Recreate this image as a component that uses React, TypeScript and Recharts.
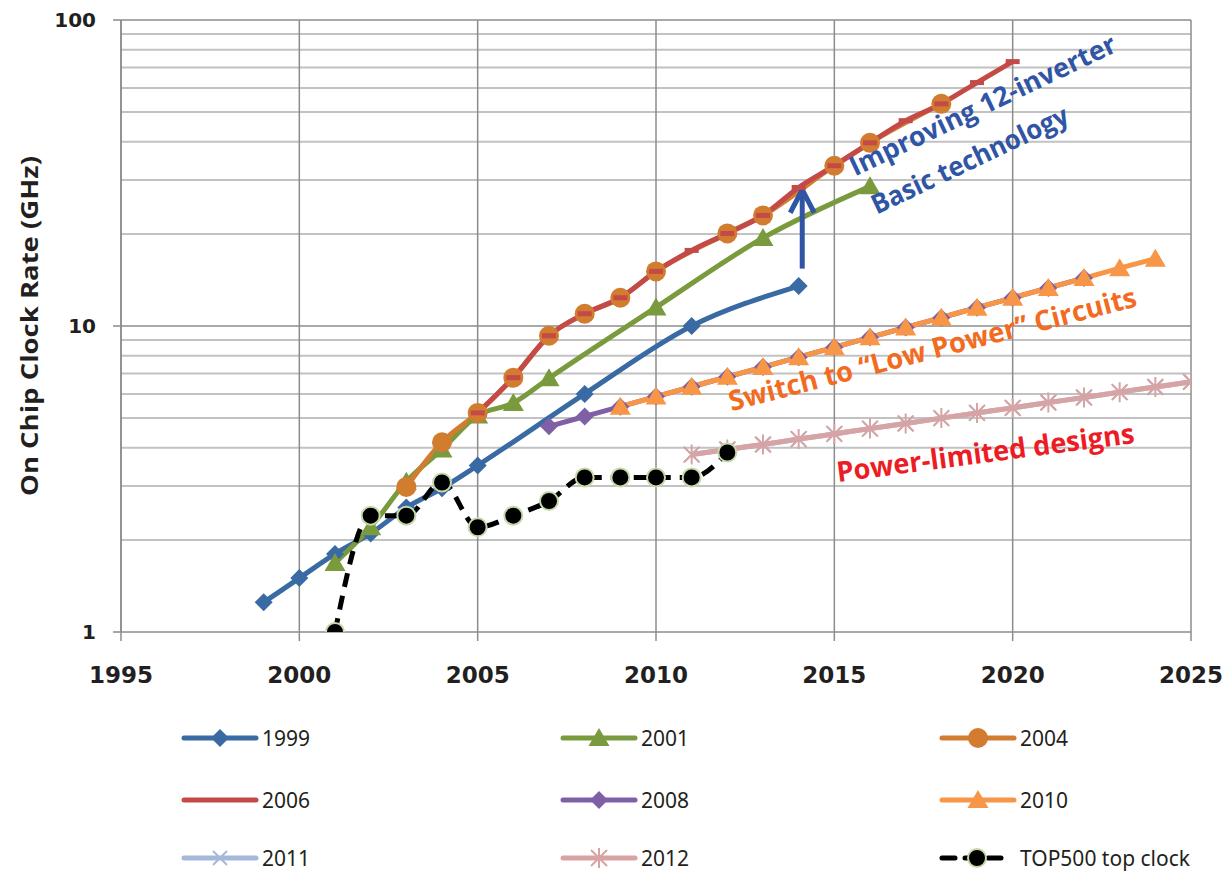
import React from 'react';
import {
  LineChart,
  Line,
  XAxis,
  YAxis,
  CartesianGrid,
  ReferenceDot,
  ReferenceLine,
  Label
} from 'recharts';

// axis ticks
const xTicks = [1995, 2000, 2005, 2010, 2015, 2020, 2025];
const yTicks = [1, 2, 3, 4, 5, 6, 7, 8, 9, 10, 20, 30, 40, 50, 60, 70, 80, 90, 100];
const yMajor = [1, 10, 100];
const yMinor = [2, 3, 4, 5, 6, 7, 8, 9, 20, 30, 40, 50, 60, 70, 80, 90];

// roadmap editions (GHz)
const years1999 = [1999, 2000, 2001, 2002, 2003, 2004, 2005, 2008, 2011, 2014];
const clock1999 = [1.25, 1.5, 1.8, 2.1, 2.55, 2.95, 3.5, 6.0, 10.0, 13.5];

const years2001 = [2001, 2002, 2003, 2004, 2005, 2006, 2007, 2010, 2013, 2016];
const clock2001 = [1.68, 2.2, 3.1, 3.95, 5.1, 5.6, 6.75, 11.5, 19.4, 28.6];

const years2004 = [2003, 2004, 2005, 2006, 2007, 2008, 2009, 2010, 2012, 2013, 2015, 2016, 2018];
const clock2004 = [2.98, 4.17, 5.2, 6.78, 9.29, 10.97, 12.37, 15.08, 20.07, 22.98, 33.4, 39.68, 53.21];

const years2006 = [2005, 2006, 2007, 2008, 2009, 2010, 2011, 2012, 2013, 2014, 2015, 2016, 2017, 2018, 2019, 2020];
const clock2006 = [5.2, 6.78, 9.29, 10.97, 12.37, 15.08, 17.66, 20.07, 22.98, 28.36, 33.4, 39.68, 46.89, 53.21, 62.44, 73.12];

const years2008 = [2007, 2008, 2009, 2010, 2011, 2012, 2013, 2014, 2015, 2016, 2017, 2018, 2019, 2020, 2021, 2022];
const clock2008 = [4.7, 5.06, 5.45, 5.88, 6.33, 6.82, 7.34, 7.91, 8.52, 9.18, 9.89, 10.65, 11.48, 12.36, 13.32, 14.34];

const years2010 = [2009, 2010, 2011, 2012, 2013, 2014, 2015, 2016, 2017, 2018, 2019, 2020, 2021, 2022, 2023, 2024];
const clock2010 = [5.45, 5.88, 6.33, 6.82, 7.34, 7.91, 8.52, 9.18, 9.89, 10.65, 11.48, 12.36, 13.32, 14.34, 15.45, 16.6];

const years2011 = [2011, 2012, 2013, 2014, 2015, 2016, 2017, 2018, 2019, 2020, 2021, 2022, 2023, 2024, 2025];
const clock2011 = [3.8, 3.95, 4.1, 4.27, 4.44, 4.62, 4.8, 5.0, 5.2, 5.4, 5.62, 5.84, 6.08, 6.32, 6.57];

const years2012 = [2011, 2012, 2013, 2014, 2015, 2016, 2017, 2018, 2019, 2020, 2021, 2022, 2023, 2024, 2025];
const clock2012 = [3.8, 3.95, 4.1, 4.27, 4.44, 4.62, 4.8, 5.0, 5.2, 5.4, 5.62, 5.84, 6.08, 6.32, 6.57];

const yearsTop500 = [2001, 2002, 2003, 2004, 2005, 2006, 2007, 2008, 2009, 2010, 2011, 2012];
const clockTop500 = [1.0, 2.4, 2.4, 3.08, 2.2, 2.4, 2.68, 3.2, 3.2, 3.2, 3.2, 3.86];

const toRows = (years: number[], values: number[]) =>
  years.map((year, i) => ({ year, value: values[i] }));

type Kind = 'diamond' | 'triangle' | 'circle' | 'dash' | 'x' | 'star' | 'top' | 'none';

const series = [
  { name: '1999', rows: toRows(years1999, clock1999), color: '#3A6AA3', kind: 'diamond' as Kind },
  { name: '2001', rows: toRows(years2001, clock2001), color: '#7A9A3E', kind: 'triangle' as Kind },
  { name: '2004', rows: toRows(years2004, clock2004), color: '#D27C30', kind: 'circle' as Kind },
  { name: '2006', rows: toRows(years2006, clock2006), color: '#C44A48', kind: 'dash' as Kind },
  { name: '2008', rows: toRows(years2008, clock2008), color: '#7F5FA6', kind: 'diamond' as Kind },
  { name: '2010', rows: toRows(years2010, clock2010), color: '#F79646', kind: 'triangle' as Kind },
  { name: '2011', rows: toRows(years2011, clock2011), color: '#A6B8DA', kind: 'x' as Kind },
  { name: '2012', rows: toRows(years2012, clock2012), color: '#D8A3A3', kind: 'star' as Kind },
  { name: 'TOP500 top clock', rows: toRows(yearsTop500, clockTop500), color: '#000000', kind: 'top' as Kind }
];

const Marker = ({ kind, cx, cy, color }: { kind: Kind; cx: number; cy: number; color: string }) => {
  switch (kind) {
    case 'diamond':
      return <path d={`M${cx} ${cy - 9}L${cx + 9} ${cy}L${cx} ${cy + 9}L${cx - 9} ${cy}Z`} fill={color} />;
    case 'triangle':
      return <path d={`M${cx} ${cy - 10}L${cx + 10.5} ${cy + 8}L${cx - 10.5} ${cy + 8}Z`} fill={color} />;
    case 'circle':
      return <circle cx={cx} cy={cy} r={10} fill={color} />;
    case 'dash':
      return <rect x={cx - 7} y={cy - 2.5} width={14} height={5} fill={color} />;
    case 'x':
      return (
        <path d={`M${cx - 7} ${cy - 7}L${cx + 7} ${cy + 7}M${cx - 7} ${cy + 7}L${cx + 7} ${cy - 7}`} stroke={color} strokeWidth={2} />
      );
    case 'star':
      return (
        <path
          d={`M${cx - 8} ${cy - 8}L${cx + 8} ${cy + 8}M${cx - 8} ${cy + 8}L${cx + 8} ${cy - 8}M${cx} ${cy - 10}L${cx} ${cy + 10}`}
          stroke={color}
          strokeWidth={2}
        />
      );
    case 'top':
      return <circle cx={cx} cy={cy} r={9} fill="#000" stroke="#C4D9A8" strokeWidth={2} />;
    default:
      return null;
  }
};

const dotFor = (kind: Kind, color: string) => (props: any) => {
  const { cx, cy, index } = props;
  if (cx == null || cy == null) return <g key={index} />;
  return (
    <g key={index}>
      <Marker kind={kind} cx={cx} cy={cy} color={color} />
    </g>
  );
};

const XTick = (props: any) => {
  const { x, y, payload } = props;
  return (
    <text x={x} y={y} dy={40} textAnchor="middle" fontFamily="DejaVu Sans" fontWeight="bold" fontSize={23} fill="#231F20">
      {payload.value}
    </text>
  );
};

const YTick = (props: any) => {
  const { x, y, payload } = props;
  if (!yMajor.includes(payload.value)) return <g />;
  return (
    <g>
      <line x1={x - 8} x2={x} y1={y} y2={y} stroke="#8a8a8a" strokeWidth={1.5} />
      <text x={x - 25} y={y} dy={7} textAnchor="end" fontFamily="DejaVu Sans" fontWeight="bold" fontSize={20} fill="#231F20">
        {payload.value}
      </text>
    </g>
  );
};

const annotationText = (text: string, color: string, angle: number, length: number, size: number) => (p: any) => (
  <text
    x={p.cx}
    y={p.cy}
    transform={`rotate(${angle} ${p.cx} ${p.cy})`}
    fill={color}
    fontFamily="Open Sans"
    fontWeight="bold"
    fontSize={size}
    textLength={length}
    lengthAdjust="spacingAndGlyphs"
  >
    {text}
  </text>
);

const Arrow = (p: any) => {
  const { x1, y1, x2, y2 } = p;
  const top = Math.min(y1, y2);
  const bottom = Math.max(y1, y2);
  return (
    <g>
      <line x1={x1} x2={x2} y1={bottom} y2={top + 3} stroke="#2F55A4" strokeWidth={5} />
      <path d={`M${x1 - 12} ${top + 25}L${x1} ${top + 2}L${x1 + 12} ${top + 25}`} fill="none" stroke="#2F55A4" strokeWidth={5} />
    </g>
  );
};

const LegendIcon = ({ kind, color }: { kind: Kind; color: string }) => (
  <svg width={78} height={24} style={{ display: 'block' }}>
    {kind === 'top' ? (
      <g>
        <line x1={3} x2={70} y1={12} y2={12} stroke="#000" strokeWidth={5} strokeLinecap="round" strokeDasharray="13 10" />
        <Marker kind="top" cx={38} cy={12} color={color} />
      </g>
    ) : (
      <g>
        <line x1={3} x2={75} y1={12} y2={12} stroke={color} strokeWidth={5} strokeLinecap="round" />
        {kind !== 'dash' && <Marker kind={kind} cx={39} cy={12} color={color} />}
      </g>
    )}
  </svg>
);

const legendCols = [181, 560, 939];
const legendRows = [738, 800, 858];

export default function App() {
  return (
    <div style={{ position: 'absolute', left: 0, top: 0, width: 1228, height: 871, background: '#fff' }}>
      <LineChart width={1228} height={700} margin={{ top: 20, right: 37, bottom: 18, left: 0 }}>
        <CartesianGrid horizontalValues={yMinor} vertical={false} stroke="#C2C2C2" strokeWidth={2} />
        <CartesianGrid horizontalValues={[10, 100]} verticalValues={xTicks} stroke="#8C8C8C" strokeWidth={1.5} />
        <XAxis
          dataKey="year"
          type="number"
          domain={[1995, 2025]}
          ticks={xTicks}
          allowDataOverflow
          height={50}
          stroke="#8C8C8C"
          strokeWidth={1.5}
          tickSize={9}
          tickMargin={2}
          tick={<XTick />}
        />
        <YAxis
          type="number"
          scale="log"
          domain={[1, 100]}
          ticks={yTicks}
          allowDataOverflow
          width={121}
          stroke="#8C8C8C"
          strokeWidth={1.5}
          tickLine={false}
          tickSize={0}
          tickMargin={0}
          tick={<YTick />}
          interval={0}
        >
          <Label
            content={(p: any) => {
              const cy = p.viewBox.y + p.viewBox.height / 2;
              return (
                <text
                  x={29}
                  y={cy}
                  transform={`rotate(-90 29 ${cy})`}
                  textAnchor="middle"
                  dominantBaseline="central"
                  fontFamily="Open Sans"
                  fontWeight="bold"
                  fontSize={23}
                  textLength={340}
                  lengthAdjust="spacingAndGlyphs"
                  fill="#231F20"
                >
                  On Chip Clock Rate (GHz)
                </text>
              );
            }}
          />
        </YAxis>
        {series.map((s) => (
          <Line
            key={s.name}
            data={s.rows}
            dataKey="value"
            name={s.name}
            type="monotone"
            stroke={s.color}
            strokeWidth={5}
            strokeDasharray={s.kind === 'top' ? '14 9' : undefined}
            strokeLinejoin="round"
            dot={dotFor(s.kind, s.color)}
            activeDot={false}
            isAnimationActive={false}
          />
        ))}
        <ReferenceLine
          segment={[
            { x: 2014.1, y: 15.4 },
            { x: 2014.1, y: 28.3 }
          ]}
          shape={<Arrow />}
        />
        <ReferenceDot x={2015.58} y={30.8} r={1} ifOverflow="visible" shape={annotationText('Improving 12-inverter', '#2F55A4', -25.5, 292, 27)} />
        <ReferenceDot x={2016.19} y={23.1} r={1} ifOverflow="visible" shape={annotationText('Basic technology', '#2F55A4', -25.5, 215, 27)} />
        <ReferenceDot
          x={2012.12}
          y={5.27}
          r={1}
          ifOverflow="visible"
          shape={annotationText('Switch to \u201CLow Power\u201D Circuits', '#F26B21', -14.5, 420, 28)}
        />
        <ReferenceDot x={2015.1} y={3.09} r={1} ifOverflow="visible" shape={annotationText('Power-limited designs', '#ED1C24', -7.5, 300, 28)} />
      </LineChart>
      {series.map((s, i) => (
        <div
          key={s.name}
          style={{
            position: 'absolute',
            left: legendCols[i % 3],
            top: legendRows[Math.floor(i / 3)] - 12,
            display: 'flex',
            alignItems: 'center',
            height: 24
          }}
        >
          <LegendIcon kind={s.kind} color={s.color} />
          <span style={{ fontFamily: 'Noto Sans', fontSize: 21, color: '#231F20', marginLeft: 3, lineHeight: '24px' }}>
            {s.name}
          </span>
        </div>
      ))}
    </div>
  );
}
